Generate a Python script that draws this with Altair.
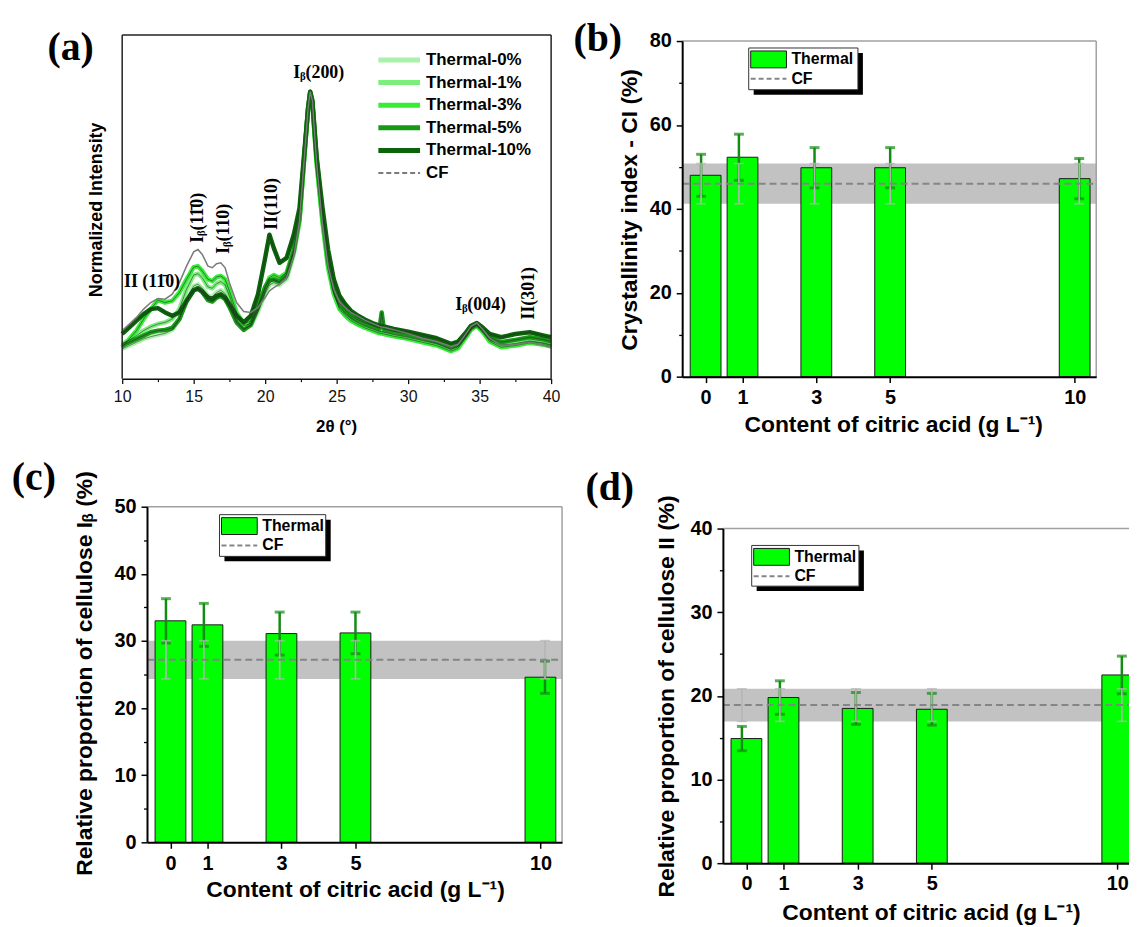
import altair as alt
import pandas as pd

# ======================= DATA =======================
# ---- panel (a): XRD patterns (normalized intensity, arbitrary units) ----
theta = [10, 10.5, 11, 11.5, 12, 12.5, 13, 13.5, 14, 14.5,
         15, 15.3, 15.6, 16, 16.3, 16.6, 16.9, 17.2, 17.5, 18,
         18.5, 19, 19.5, 20, 20.3, 20.6, 21, 21.5, 22, 22.4,
         22.7, 23, 23.15, 23.3, 23.6, 24, 24.4, 24.8, 25.2, 25.6,
         26, 26.5, 27, 27.5, 28, 28.15, 28.3, 29, 30, 31,
         32, 33, 33.5, 34, 34.4, 34.8, 35.2, 35.7, 36.5, 37.5,
         38.5, 39.5, 40]

xrd_t0 = [90, 100, 110, 120, 127, 132, 137, 147, 180, 240,
          280, 285, 273, 250, 247, 260, 267, 257, 230, 175,
          150, 160, 203, 257, 283, 290, 283, 300, 375, 473,
          645, 812, 862, 830, 650, 480, 340, 258, 214, 195,
          180, 168, 158, 150, 142, 141, 140, 133, 125, 115,
          105, 88, 96, 125, 152, 165, 146, 116, 100, 104,
          112, 106, 100]
xrd_t1 = [105, 117, 130, 145, 157, 165, 170, 180, 210, 270,
          313, 317, 305, 277, 273, 287, 293, 283, 250, 190,
          160, 167, 210, 265, 290, 297, 290, 307, 380, 475,
          647, 815, 865, 833, 652, 485, 345, 262, 218, 198,
          183, 170, 160, 152, 144, 143, 142, 135, 127, 117,
          107, 90, 98, 127, 153, 164, 147, 118, 102, 106,
          114, 108, 102]
xrd_t3 = [95, 120, 145, 180, 210, 237, 230, 235, 260, 300,
          337, 340, 325, 300, 295, 307, 310, 300, 265, 200,
          167, 173, 220, 275, 305, 313, 305, 320, 390, 480,
          650, 815, 862, 830, 650, 475, 335, 255, 210, 190,
          175, 163, 153, 145, 137, 136, 135, 128, 120, 110,
          100, 83, 92, 122, 148, 160, 142, 112, 95, 100,
          108, 102, 97]
xrd_t5 = [100, 110, 120, 130, 140, 145, 147, 153, 180, 233,
          267, 272, 262, 237, 233, 245, 250, 240, 217, 170,
          147, 163, 215, 277, 297, 300, 293, 313, 385, 485,
          653, 818, 867, 838, 665, 495, 355, 272, 228, 207,
          190, 178, 168, 160, 152, 200, 150, 143, 135, 125,
          113, 97, 104, 130, 153, 163, 148, 124, 110, 117,
          125, 118, 112]
xrd_t10 = [135, 155, 175, 195, 210, 213, 200, 190, 200, 235,
           267, 273, 263, 245, 240, 250, 255, 245, 225, 190,
           170, 190, 255, 365, 435, 395, 350, 365, 435, 515,
           665, 815, 867, 840, 670, 520, 390, 300, 250, 225,
           205, 190, 178, 168, 160, 159, 158, 150, 142, 132,
           122, 105, 112, 137, 160, 168, 155, 135, 125, 135,
           140, 130, 125]
xrd_cf = [145, 165, 185, 210, 230, 242, 240, 255, 290, 340,
          383, 390, 375, 340, 335, 347, 350, 335, 290, 230,
          203, 200, 215, 245, 265, 275, 285, 305, 370, 475,
          645, 815, 867, 840, 650, 470, 340, 270, 232, 215,
          200, 188, 176, 167, 158, 156, 155, 148, 136, 122,
          112, 97, 104, 133, 158, 168, 150, 122, 100, 103,
          110, 100, 95]
xrd_names = ["Thermal-0%", "Thermal-1%", "Thermal-3%", "Thermal-5%", "Thermal-10%", "CF"]
theta_ticks = [10, 15, 20, 25, 30, 35, 40]
theta_minor = [12.5, 17.5, 22.5, 27.5, 32.5, 37.5]

peak_labels = ["I\u1d66(200)", "II (11\u03040)", "I\u1d66(11\u03040)", "I\u1d66(110)",
               "II(110)", "I\u1d66(004)", "II(301)"]

# ---- panels (b)-(d) ----
conc = [0, 1, 3, 5, 10]
ci_mean = [48.0, 52.3, 49.8, 49.8, 47.2]
ci_err = [5.0, 5.5, 4.8, 4.8, 4.8]
cf_ci, cf_ci_err = 46.0, 4.8

ib_mean = [33.0, 32.4, 31.1, 31.2, 24.6]
ib_err = [3.3, 3.2, 3.2, 3.1, 2.4]
cf_ib, cf_ib_err = 27.2, 2.85

c2_mean = [14.9, 19.8, 18.5, 18.4, 22.5]
c2_err = [1.45, 2.0, 1.9, 1.9, 2.25]
cf_c2, cf_c2_err = 18.9, 1.95

# ======================= LAYOUT / STYLE =======================
W, H = 1129, 919
SANS = "Liberation Sans"
SERIF = "Liberation Serif"
A_COLORS = ["#aaf2aa", "#7cee7c", "#36ec36", "#169a16", "#0a640a"]
CF_GRAY = "#7a7a7a"
BAR = "#00ff00"
DKG = "#148c14"
LTG = "#b5b5b5"
BAND = "#c2c2c2"
BORDER = "#a0a0a0"
CONC_DOM = [-0.5, 10.45]
TITLE_SIZE = 23
TICK_SIZE = 20

dummy = pd.DataFrame({"v": [0]})
layers = []


def txt(s, x, y, size, font=SANS, weight="bold", angle=0, align="center",
        baseline="middle", color="black"):
    kw = dict(text=s, font=font, fontSize=size, fontWeight=weight,
              align=align, baseline=baseline, color=color)
    if angle:
        kw["angle"] = angle
    return alt.Chart(dummy).mark_text(**kw).encode(x=alt.value(x), y=alt.value(y))


def prect(x1, y1, x2, y2, **kw):
    return alt.Chart(dummy).mark_rect(**kw).encode(
        x=alt.value(x1), x2=alt.value(x2), y=alt.value(y1), y2=alt.value(y2))


# ======================= PANEL (a) =======================
AXS = alt.Scale(domain=[10, 40], range=[115, 547], nice=False, zero=False)
AYS = alt.Scale(domain=[0, 1038], range=[370, 24], nice=False, zero=False)
A_XOFF = 370 - H

xrd_vals = [xrd_t0, xrd_t1, xrd_t3, xrd_t5, xrd_t10, xrd_cf]
a_axis = alt.Axis(orient="bottom", offset=A_XOFF, values=theta_ticks, tickSize=5,
                  tickWidth=1.3, tickColor="#111", domainColor="#111", domainWidth=1.5,
                  labelFont=SANS, labelFontSize=16, labelColor="#111", labelPadding=5,
                  labelFlush=False, labelOverlap=False, grid=False, title=None,
                  zindex=1, format="d")
for i in range(5):
    df = pd.DataFrame({"t": theta, "I": xrd_vals[i]})
    layers.append(alt.Chart(df).mark_line(color=A_COLORS[i], strokeWidth=4.5,
                                          strokeJoin="round").encode(
        x=alt.X("t:Q", scale=AXS, axis=a_axis if i == 0 else None),
        y=alt.Y("I:Q", scale=AYS, axis=None)))
for i in range(5):
    df = pd.DataFrame({"t": theta, "I": xrd_vals[i]})
    layers.append(alt.Chart(df).mark_line(color="#2a2a2a", strokeWidth=0.8,
                                          opacity=0.7).encode(
        x=alt.X("t:Q", scale=AXS, axis=None), y=alt.Y("I:Q", scale=AYS, axis=None)))
df = pd.DataFrame({"t": theta, "I": xrd_cf})
layers.append(alt.Chart(df).mark_line(color=CF_GRAY, strokeWidth=1.5).encode(
    x=alt.X("t:Q", scale=AXS, axis=None), y=alt.Y("I:Q", scale=AYS, axis=None)))

# minor ticks
layers.append(alt.Chart(pd.DataFrame({"t": theta_minor})).mark_point(opacity=0).encode(
    x=alt.X("t:Q", scale=AXS, axis=alt.Axis(orient="bottom", offset=A_XOFF, values=theta_minor,
                                           labels=False, domain=False, tickSize=3,
                                           tickWidth=1.2, tickColor="#111", grid=False,
                                           title=None, zindex=1)),
    y=alt.value(0)))

# frame
frame = pd.DataFrame({"x1": [10, 10, 40], "x2": [10, 40, 40],
                      "y1": [0, 1038, 0], "y2": [1038, 1038, 1038]})
layers.append(alt.Chart(frame).mark_rule(color="#222", strokeWidth=1.5).encode(
    x=alt.X("x1:Q", scale=AXS, axis=None), x2="x2:Q",
    y=alt.Y("y1:Q", scale=AYS, axis=None), y2="y2:Q"))

# legend (a)
for i, name in enumerate(xrd_names):
    yy = 49 + 22.8 * i
    if i < 5:
        layers.append(alt.Chart(dummy).mark_rule(color=A_COLORS[i], strokeWidth=5).encode(
            x=alt.value(373), x2=alt.value(415), y=alt.value(yy)))
    else:
        layers.append(alt.Chart(dummy).mark_rule(color=CF_GRAY, strokeWidth=2,
                                                 strokeDash=[5, 3]).encode(
            x=alt.value(373), x2=alt.value(415), y=alt.value(yy)))
    layers.append(txt(name, 421, yy, 17, align="left"))

# peak labels
PK = 18
layers.append(txt(peak_labels[0], 313, 62, PK, font=SERIF))
layers.append(txt(peak_labels[1], 145, 273, PK, font=SERIF))
layers.append(txt(peak_labels[2], 191, 208, PK, font=SERIF, angle=270))
layers.append(txt(peak_labels[3], 218, 219, PK, font=SERIF, angle=270))
layers.append(txt(peak_labels[4], 266, 194, PK, font=SERIF, angle=270))
layers.append(txt(peak_labels[5], 476, 296, PK, font=SERIF))
layers.append(txt(peak_labels[6], 525, 284, PK, font=SERIF, angle=270))

layers.append(txt("Normalized Intensity", 90, 200, 18, angle=270))
layers.append(txt("2\u03b8 (\u00b0)", 331, 419, 17))
layers.append(txt("(a)", 63, 37, 40, font=SERIF))


# ======================= PANELS (b)-(d) =======================
def bar_panel(mean, err, cf, cf_err, ydom, yticks, yminor, xrng, yrng, leg,
              ytitle, xtitle_pos, ytitle_pos, letter, letter_pos):
    XS = alt.Scale(domain=CONC_DOM, range=xrng, nice=False, zero=False)
    YS = alt.Scale(domain=ydom, range=yrng, nice=False, zero=False)
    xoff = yrng[0] - H
    yoff = -xrng[0]
    out = []
    band = pd.DataFrame({"x1": [CONC_DOM[0]], "x2": [CONC_DOM[1]],
                         "lo": [cf - cf_err], "hi": [cf + cf_err]})
    out.append(alt.Chart(band).mark_rect(color=BAND).encode(
        x=alt.X("x1:Q", scale=XS, axis=None), x2="x2:Q",
        y=alt.Y("lo:Q", scale=YS, axis=None), y2="hi:Q"))
    d = pd.DataFrame({"c": conc, "m": mean,
                      "lo": [m - e for m, e in zip(mean, err)],
                      "hi": [m + e for m, e in zip(mean, err)]})
    xax = alt.Axis(orient="bottom", offset=xoff, values=conc, tickSize=6, tickWidth=1.5,
                   tickColor="black", domainColor="black", domainWidth=2,
                   labelFont=SANS, labelFontSize=TICK_SIZE, labelFontWeight="bold",
                   labelColor="black", labelPadding=5, labelFlush=False,
                   labelOverlap=False, grid=False, title=None, zindex=1)
    yax = alt.Axis(orient="left", offset=yoff, values=yticks, tickSize=6, tickWidth=1.5,
                   tickColor="black", domainColor="black", domainWidth=2,
                   labelFont=SANS, labelFontSize=TICK_SIZE, labelFontWeight="bold",
                   labelColor="black", labelPadding=5, labelFlush=False,
                   labelOverlap=False, grid=False, title=None, zindex=1)
    out.append(alt.Chart(d).mark_bar(orient="vertical", size=31, fill=BAR,
                                     stroke="#1a1a1a", strokeWidth=1).encode(
        x=alt.X("c:Q", scale=XS, axis=xax), y=alt.Y("m:Q", scale=YS, axis=yax)))
    out.append(alt.Chart(pd.DataFrame({"y": yminor})).mark_point(opacity=0).encode(
        x=alt.value(0),
        y=alt.Y("y:Q", scale=YS, axis=alt.Axis(orient="left", offset=yoff, values=yminor,
                                              labels=False, domain=False, tickSize=3.5,
                                              tickWidth=1.3, tickColor="black", grid=False,
                                              title=None, zindex=1))))
    # sample error bars
    out.append(alt.Chart(d).mark_rule(color=DKG, strokeWidth=2.5).encode(
        x=alt.X("c:Q", scale=XS, axis=None), y=alt.Y("lo:Q", scale=YS, axis=None), y2="hi:Q"))
    for f in ["hi", "lo"]:
        out.append(alt.Chart(d).mark_tick(orient="horizontal", size=10, thickness=3,
                                          color=DKG).encode(
            x=alt.X("c:Q", scale=XS, axis=None), y=alt.Y(f + ":Q", scale=YS, axis=None)))
    # CF error bars
    d2 = pd.DataFrame({"c": conc, "lo": [cf - cf_err] * len(conc),
                       "hi": [cf + cf_err] * len(conc)})
    out.append(alt.Chart(d2).mark_rule(color=LTG, strokeWidth=1.6).encode(
        x=alt.X("c:Q", scale=XS, axis=None), y=alt.Y("lo:Q", scale=YS, axis=None), y2="hi:Q"))
    for f in ["hi", "lo"]:
        out.append(alt.Chart(d2).mark_tick(orient="horizontal", size=10, thickness=1.6,
                                           color=LTG).encode(
            x=alt.X("c:Q", scale=XS, axis=None), y=alt.Y(f + ":Q", scale=YS, axis=None)))
    # CF mean line
    cfl = pd.DataFrame({"x1": [CONC_DOM[0]], "x2": [CONC_DOM[1]], "y": [cf]})
    out.append(alt.Chart(cfl).mark_rule(color="#858585", strokeWidth=2,
                                        strokeDash=[7, 4]).encode(
        x=alt.X("x1:Q", scale=XS, axis=None), x2="x2:Q", y=alt.Y("y:Q", scale=YS, axis=None)))
    # top / right frame
    fr = pd.DataFrame({"x1": [CONC_DOM[0], CONC_DOM[1]], "x2": [CONC_DOM[1], CONC_DOM[1]],
                       "y1": [ydom[1], ydom[0]], "y2": [ydom[1], ydom[1]]})
    out.append(alt.Chart(fr).mark_rule(color=BORDER, strokeWidth=1.5).encode(
        x=alt.X("x1:Q", scale=XS, axis=None), x2="x2:Q",
        y=alt.Y("y1:Q", scale=YS, axis=None), y2="y2:Q"))
    # legend box with shadow
    bx1, by1, bx2, by2 = leg
    out.append(prect(bx1 + 5, by1 + 5, bx2 + 5, by2 + 5, fill="black"))
    out.append(prect(bx1, by1, bx2, by2, fill="white", stroke="#333", strokeWidth=1))
    out.append(prect(bx1 + 2, by1 + 3, bx1 + 38, by1 + 20, fill=BAR, stroke="#1a1a1a",
                     strokeWidth=1))
    out.append(alt.Chart(dummy).mark_rule(color="#858585", strokeWidth=2,
                                          strokeDash=[5, 3]).encode(
        x=alt.value(bx1 + 2), x2=alt.value(bx1 + 38), y=alt.value(by1 + 31)))
    out.append(txt("Thermal", bx1 + 43, by1 + 11.5, 16, align="left"))
    out.append(txt("CF", bx1 + 43, by1 + 31, 16, align="left"))
    # titles
    out.append(txt(ytitle, ytitle_pos[0], ytitle_pos[1], TITLE_SIZE, angle=270))
    out.append(txt("Content of citric acid (g L\u207b\u00b9)", xtitle_pos[0], xtitle_pos[1],
                   TITLE_SIZE))
    out.append(txt(letter, letter_pos[0], letter_pos[1], 40, font=SERIF))
    return out


layers += bar_panel(ci_mean, ci_err, cf_ci, cf_ci_err, [0, 80], [0, 20, 40, 60, 80],
                    [10, 30, 50, 70], [679, 1096], [368, 30], (746, 37, 856, 79),
                    "Crystallinity index - CI (%)", (892, 417), (626, 200), "(b)", (594, 28))
layers += bar_panel(ib_mean, ib_err, cf_ib, cf_ib_err, [0, 50], [0, 10, 20, 30, 40, 50],
                    [5, 15, 25, 35, 45], [140, 558], [837, 499], (213, 507, 320, 549),
                    "Relative proportion of cellulose I\u1d66 (%)", (350, 885), (78, 667),
                    "(c)", (26, 470))
layers += bar_panel(c2_mean, c2_err, cf_c2, cf_c2_err, [0, 40], [0, 10, 20, 30, 40],
                    [5, 15, 25, 35], [720, 1139], [858, 521], (749, 538, 857, 579),
                    "Relative proportion of cellulose II (%)", (930, 908), (664, 690),
                    "(d)", (606, 480))

chart = alt.layer(*layers).resolve_scale(x="independent", y="independent").properties(
    width=W, height=H, autosize=alt.AutoSizeParams(type="none"), padding=0,
    background="white").configure_view(strokeWidth=0)

chart.save("out.html", embed_options={"renderer": "svg", "actions": False})
